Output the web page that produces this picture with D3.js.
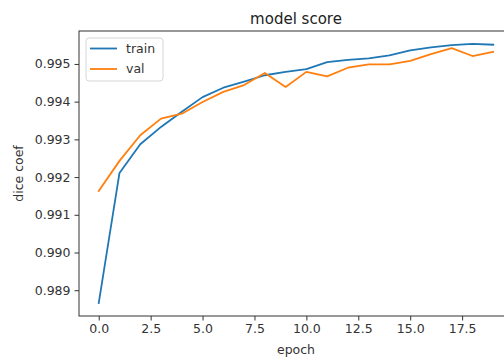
<!DOCTYPE html>
<html>
<head>
<meta charset="utf-8">
<script src="https://cdn.jsdelivr.net/npm/d3@7"></script>
<style>
  html, body { margin: 0; padding: 0; background: #fff; }
  svg { display: block; font-family: 'DejaVu Sans', sans-serif; }
</style>
</head>
<body>
<div id="chart"></div>
<script>
// Values
const EPOCHS = d3.range(0, 20);
const TRAIN = [0.98866, 0.99211, 0.99287, 0.99333, 0.99373, 0.99412, 0.99437, 0.99453,
               0.99470, 0.99479, 0.99486, 0.99505, 0.99511, 0.99515, 0.99523, 0.99536,
               0.99544, 0.99550, 0.99553, 0.99551];
const VAL   = [0.99163, 0.99243, 0.99311, 0.99355, 0.99368, 0.99399, 0.99426, 0.99444,
               0.99476, 0.99439, 0.99479, 0.99467, 0.99490, 0.99499, 0.99499, 0.99508,
               0.99526, 0.99542, 0.99521, 0.99532];
const X_TICKS = [0, 2.5, 5, 7.5, 10, 12.5, 15, 17.5];
const Y_TICKS = [0.989, 0.990, 0.991, 0.992, 0.993, 0.994, 0.995];

const SERIES = [
  { name: 'train', values: TRAIN, color: '#1f77b4' },
  { name: 'val',   values: VAL,   color: '#ff7f0e' },
];

(function () {
  'use strict';

  const W = 504, H = 361;
  const M = { left: 79, right: 513, top: 31, bottom: 316 };

  const svg = d3.select('#chart').append('svg')
    .attr('width', W).attr('height', H);

  // matplotlib-style 5% margins around data
  const xPad = (d3.max(EPOCHS) - d3.min(EPOCHS)) * 0.05;
  const all = TRAIN.concat(VAL);
  const yMin = d3.min(all), yMax = d3.max(all);
  const yPad = (yMax - yMin) * 0.05;

  const x = d3.scaleLinear()
    .domain([d3.min(EPOCHS) - xPad, d3.max(EPOCHS) + xPad])
    .range([M.left, M.right]);
  const y = d3.scaleLinear()
    .domain([yMin - yPad, yMax + yPad])
    .range([M.bottom, M.top]);

  // Lines
  const line = d3.line()
    .x((d, i) => x(EPOCHS[i]))
    .y(d => y(d));

  svg.append('g').selectAll('path')
    .data(SERIES)
    .join('path')
      .attr('fill', 'none')
      .attr('stroke', d => d.color)
      .attr('stroke-width', 1.8)
      .attr('stroke-linejoin', 'round')
      .attr('stroke-linecap', 'square')
      .attr('d', d => line(d.values));

  // Axes
  const xAxis = svg.append('g')
    .attr('transform', `translate(0,${M.bottom})`)
    .call(d3.axisBottom(x).tickValues(X_TICKS).tickFormat(d3.format('.1f'))
      .tickSizeInner(4.5).tickSizeOuter(0).tickPadding(4));
  const yAxis = svg.append('g')
    .attr('transform', `translate(${M.left},0)`)
    .call(d3.axisLeft(y).tickValues(Y_TICKS).tickFormat(d3.format('.3f'))
      .tickSizeInner(4.5).tickSizeOuter(0).tickPadding(4));

  [xAxis, yAxis].forEach(g => {
    g.select('.domain').remove();
    g.selectAll('line').attr('stroke', '#333').attr('stroke-width', 1);
    g.selectAll('text').attr('fill', '#333').style('font-size', '12.5px')
      .style('font-family', "'DejaVu Sans', sans-serif");
  });

  // Spines
  svg.append('rect')
    .attr('x', M.left).attr('y', M.top)
    .attr('width', M.right - M.left).attr('height', M.bottom - M.top)
    .attr('fill', 'none').attr('stroke', '#333').attr('stroke-width', 1);

  // Title and labels
  const midX = (M.left + M.right) / 2;
  svg.append('text')
    .attr('x', midX).attr('y', 24)
    .attr('text-anchor', 'middle')
    .attr('fill', '#222')
    .style('font-size', '15px')
    .text('model score');

  svg.append('text')
    .attr('x', midX).attr('y', 354)
    .attr('text-anchor', 'middle')
    .attr('fill', '#333')
    .style('font-size', '12.5px')
    .text('epoch');

  svg.append('text')
    .attr('transform', `translate(23,${(M.top + M.bottom) / 2}) rotate(-90)`)
    .attr('text-anchor', 'middle')
    .attr('fill', '#333')
    .style('font-size', '12.5px')
    .text('dice coef');

  // Legend
  const lg = svg.append('g').attr('transform', `translate(${M.left + 7},${M.top + 7})`);
  lg.append('rect')
    .attr('width', 77).attr('height', 43)
    .attr('rx', 3)
    .attr('fill', 'rgba(255,255,255,0.8)')
    .attr('stroke', '#d6d6d6').attr('stroke-width', 1);

  const item = lg.selectAll('g.item')
    .data(SERIES)
    .join('g')
      .attr('class', 'item')
      .attr('transform', (d, i) => `translate(0,${10.5 + i * 20.5})`);
  item.append('line')
    .attr('x1', 4).attr('x2', 31)
    .attr('stroke', d => d.color).attr('stroke-width', 1.8);
  item.append('text')
    .attr('x', 40).attr('dy', '0.35em')
    .attr('fill', '#333')
    .style('font-size', '12.5px')
    .text(d => d.name);
})();
</script>
</body>
</html>
